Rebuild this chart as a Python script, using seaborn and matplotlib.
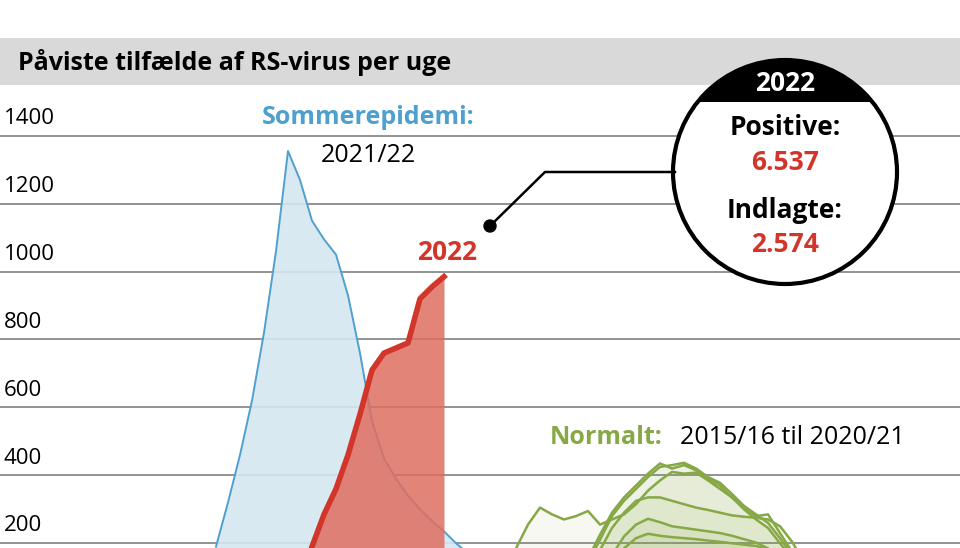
import numpy as np
import pandas as pd
import matplotlib
matplotlib.use("Agg")
import matplotlib.pyplot as plt
import matplotlib.patches as mpatches
import seaborn as sns

# weekly counts, x = running week index
blue_weeks = list(range(18, 41))
blue_vals = [190, 320, 460, 620, 820, 1060, 1355, 1270, 1150, 1095, 1050, 930,
             760, 560, 450, 390, 340, 300, 265, 235, 200, 170, 130]
red_weeks = list(range(26, 38))
red_vals = [190, 285, 360, 460, 580, 710, 760, 775, 790, 920, 955, 985]
green_weeks = list(range(43, 69))
green_series = {
    "2015/16": [185, 255, 305, 285, 270, 280, 295, 255, 270, 285, 315, 355, 385, 410, 405, 408, 385, 360, 335, 305, 280, 285, 230, 175, 135, 115],
    "2016/17": [0, 0, 0, 0, 0, 105, 155, 225, 290, 335, 370, 405, 435, 420, 430, 415, 390, 370, 335, 300, 270, 245, 200, 155, 115, 95],
    "2017/18": [0, 0, 0, 0, 0, 95, 145, 210, 280, 325, 360, 395, 425, 430, 437, 420, 395, 378, 345, 310, 285, 260, 215, 165, 115, 95],
    "2018/19": [0, 0, 0, 0, 0, 85, 125, 180, 245, 290, 325, 335, 335, 325, 315, 305, 298, 290, 282, 278, 275, 270, 250, 205, 145, 105],
    "2019/20": [0, 0, 0, 0, 0, 0, 75, 115, 165, 220, 255, 272, 262, 250, 245, 240, 235, 230, 222, 212, 202, 185, 155, 125, 95, 75],
    "2020/21": [0, 0, 0, 0, 0, 0, 55, 95, 140, 185, 215, 228, 222, 218, 215, 212, 208, 204, 200, 196, 192, 182, 165, 135, 105, 85],
}
yticks = [200, 400, 600, 800, 1000, 1200, 1400]

BLUE, BLUE_F = "#4f9fcf", "#d5e7f1"
RED, RED_F = "#d2352a", "#df6e60"
GREEN = "#86a845"
FONT = "Open Sans"

fig = plt.figure(figsize=(9.6, 5.48), dpi=100)
ax = fig.add_axes([0, 0, 1, 1 - 95 / 548])
ax.set_xlim(0, 80)
ax.set_ylim(186, 1520)
ax.axis("off")

for t in yticks:
    ax.axhline(t, color="#8a8a8a", lw=1.3, zorder=0)
    ax.text(0.3, t + 20, str(t), fontsize=16, family=FONT, va="bottom", ha="left")

# green normal seasons
gdf = pd.concat([pd.DataFrame({"week": green_weeks, "val": v, "season": k})
                 for k, v in green_series.items()])
for k, v in green_series.items():
    ax.fill_between(green_weeks, 0, v, color=GREEN, alpha=0.07, lw=0)
sns.lineplot(data=gdf, x="week", y="val", units="season", estimator=None,
             color=GREEN, lw=1.8, ax=ax, legend=False)

# blue summer epidemic
ax.fill_between(blue_weeks, 0, blue_vals, color=BLUE_F, alpha=0.9, lw=0)
sns.lineplot(x=blue_weeks, y=blue_vals, color=BLUE, lw=1.4, ax=ax)

# red 2022
ax.fill_between(red_weeks, 0, red_vals, color=RED_F, alpha=0.85, lw=0, zorder=3)
sns.lineplot(x=red_weeks, y=red_vals, color=RED, lw=4, ax=ax, zorder=4)
ax.set_xlabel("")
ax.set_ylabel("")

def fx(px): return px / 960
def fy(py): return 1 - py / 548

fig.text(fx(368), fy(118), "Sommerepidemi:", color=BLUE, fontsize=18, weight="bold",
         family=FONT, ha="center", va="center")
fig.text(fx(368), fy(155), "2021/22", fontsize=18, family=FONT, ha="center", va="center")
fig.text(fx(447), fy(252), "2022", color=RED, fontsize=19, weight="bold",
         family=FONT, ha="center", va="center")
fig.text(fx(550), fy(437), "Normalt:", color=GREEN, fontsize=18, weight="bold",
         family=FONT, ha="left", va="center")
fig.text(fx(680), fy(437), "2015/16 til 2020/21", fontsize=18,
         family=FONT, ha="left", va="center")

# header bar
fig.add_artist(mpatches.Rectangle((0, fy(85)), 1, (85 - 38) / 548,
                                  transform=fig.transFigure, color="#d9d9d9", lw=0))
fig.text(fx(18), fy(62), "Påviste tilfælde af RS-virus per uge", fontsize=18,
         weight="bold", family=FONT, va="center", ha="left")

# callout line and dot
fig.add_artist(plt.Line2D([fx(490), fx(545), fx(675)], [fy(226), fy(172), fy(172)],
                          transform=fig.transFigure, color="black", lw=1.8))
fig.add_artist(mpatches.Circle((490, 548 - 226), 6, transform=None, color="black"))

# circle badge
cx, cy, r = 785, 548 - 172, 112
fig.add_artist(mpatches.Circle((cx, cy), r, transform=None, facecolor="white", lw=0))
cap = mpatches.Circle((cx, cy), r, transform=None, facecolor="black", lw=0)
fig.add_artist(cap)
cap.set_clip_path(mpatches.Rectangle((0, 548 - 102), 960, 200, transform=None))
fig.add_artist(mpatches.Circle((cx, cy), r, transform=None, facecolor="none",
                               edgecolor="black", lw=3))
fig.text(fx(785), fy(83), "2022", color="white", fontsize=19, weight="bold",
         family=FONT, ha="center", va="center")
for txt, py, col in [("Positive:", 128, "black"), ("6.537", 163, RED),
                     ("Indlagte:", 211, "black"), ("2.574", 245, RED)]:
    fig.text(fx(785), fy(py), txt, color=col, fontsize=19, weight="bold",
             family=FONT, ha="center", va="center")

fig.savefig("out.png", dpi=100)
